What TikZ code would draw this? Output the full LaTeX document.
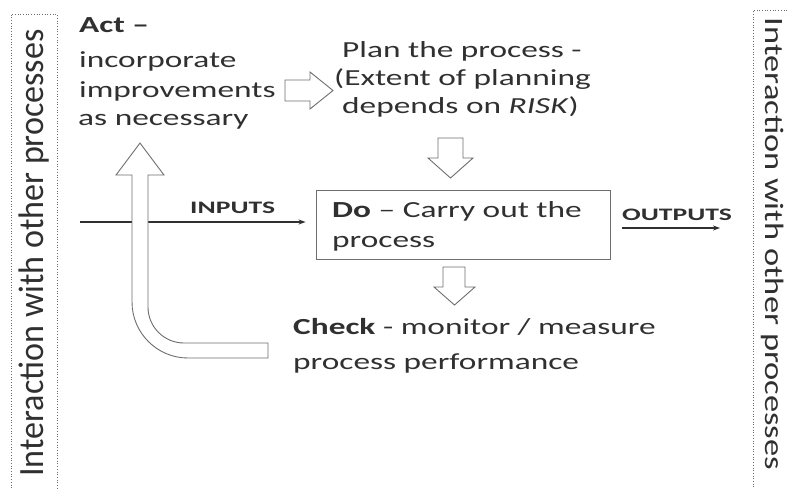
\documentclass[tikz,border=0pt]{standalone}
\usepackage{fontspec}
\setmainfont{Carlito}
\newfontfamily\hfont[FakeStretch=1.45]{Carlito}
\newfontfamily\lbfont[FakeStretch=1.58]{Carlito}
\newfontfamily\vfontl[FakeStretch=0.96]{Carlito}
\newfontfamily\vfontr[FakeStretch=1.3]{Carlito}
\usetikzlibrary{arrows.meta}
\definecolor{ink}{HTML}{303030}
\definecolor{edge}{HTML}{6E6E6E}
\tikzset{
  txt/.style={anchor=base west, inner sep=0pt, text=ink, font=\hfont\fontsize{23}{28}\selectfont},
  lbl/.style={anchor=base west, inner sep=0pt, text=ink, font=\lbfont\bfseries\fontsize{17.5}{20}\selectfont},
  vbox/.style={draw=edge, line width=0.7pt, dotted},
  blockarrow/.style={draw=edge, line width=0.9pt, fill=white, line join=miter},
  flow/.style={draw=ink, line width=1.1pt, -{Stealth[length=7pt,width=5pt]}},
  dobox/.style={draw=edge, line width=0.9pt, minimum width=294pt, minimum height=69pt, inner sep=0pt}
}
\begin{document}
\begin{tikzpicture}[x=1pt,y=-1pt]
\useasboundingbox (0,0) rectangle (787,488);
% side boxes
\draw[vbox] (11,496) -- (11,14) -- (57,14) -- (57,496);
\draw[vbox] (795,10) -- (753,10) -- (753,496);
\node[rotate=90, anchor=base, inner sep=0pt, text=ink, font=\vfontl\fontsize{35.5}{40}\selectfont] (left) at (43,253) {Interaction with other processes};
\node[rotate=-90, anchor=base, inner sep=0pt, text=ink, font=\vfontr\fontsize{26.5}{30}\selectfont] (right) at (765,244) {Interaction with other processes};
% Act
\node[txt, font=\hfont\bfseries\fontsize{23}{28}\selectfont] (act1) at (79,32) {Act –};
\node[txt] (act2) at (79,67) {incorporate};
\node[txt] (act3) at (79,97) {improvements};
\node[txt] (act4) at (78,125) {as necessary};
% Plan
\node[txt] (plan1) at (342,57) {Plan the process -};
\node[txt] (plan2) at (334,85) {(Extent of planning};
\node[txt] (plan3) at (342,113) {depends on \textit{RISK})};
% Do
\node[dobox] (do) at (463,224.5) {};
\node[txt] (do1) at (332,217) {\textbf{Do} – Carry out the};
\node[txt] (do2) at (332,247) {process};
% Check
\node[txt] (chk1) at (293,334) {\textbf{Check} - monitor / measure};
\node[txt] (chk2) at (293,369) {process performance};
% inputs / outputs
\coordinate (instart) at (80,222);
\coordinate (outstart) at (622,228);
\coordinate (outend) at (720,228);
\draw[flow, shorten >=10pt] (instart) -- (instart -| do.west);
\node[lbl] (inlbl) at (190,213) {INPUTS};
\draw[flow] (outstart) -- (outend);
\node[lbl] (outlbl) at (622,220) {OUTPUTS};
% block arrows
\draw[blockarrow] (285,80) -- (310,80) -- (310,72) -- (333,90.5) -- (310,109) -- (310,101) -- (285,101) -- cycle;
\draw[blockarrow] (438,138) -- (463,138) -- (463,158) -- (473,158) -- (450.5,178) -- (428,158) -- (438,158) -- cycle;
\draw[blockarrow] (443,267) -- (465,267) -- (465,287) -- (475,287) -- (454.5,305) -- (434,287) -- (443,287) -- cycle;
\draw[blockarrow] (268,343) -- (184,343) .. controls (164.1,343) and (148,326.9) .. (148,307) -- (148,175) -- (164,175) -- (140,143) -- (116,175) -- (132,175) -- (132,302) .. controls (132,332.9) and (157.1,358) .. (188,358) -- (268,358) -- cycle;
\end{tikzpicture}
\end{document}
